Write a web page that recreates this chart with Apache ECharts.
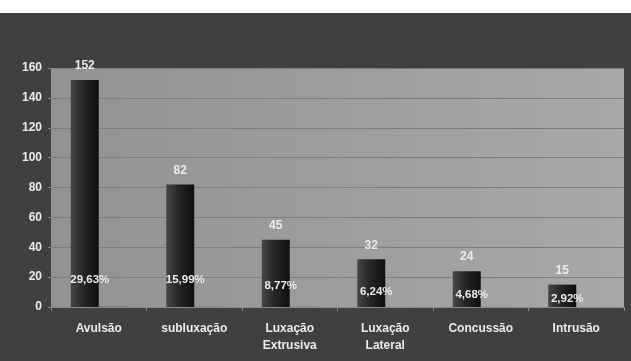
<!DOCTYPE html>
<html><head><meta charset="utf-8">
<script src="https://cdn.jsdelivr.net/npm/echarts@6/dist/echarts.min.js"></script>
<style>html,body{margin:0;padding:0;background:#fff}#c{width:631px;height:361px}</style>
</head><body><div id="c"></div>
<script>
var categories = ['Avulsão', 'subluxação', 'Luxação\nExtrusiva', 'Luxação\nLateral', 'Concussão', 'Intrusão'];
var counts = [152, 82, 45, 32, 24, 15];
var percents = ['29,63%', '15,99%', '8,77%', '6,24%', '4,68%', '2,92%'];
var shares = [29.63, 15.99, 8.77, 6.24, 4.68, 2.92];
var yTicks = [0, 20, 40, 60, 80, 100, 120, 140, 160];

var chart = echarts.init(document.getElementById('c'), null, {renderer: 'canvas'});
var barColor = new echarts.graphic.LinearGradient(0, 0, 1, 0, [
  {offset: 0, color: '#474747'}, {offset: 0.45, color: '#262626'}, {offset: 1, color: '#0e0e0e'}
]);
var font = 'Liberation Sans, Arial';
var txt = '#ebebeb';
var mainData = counts.map(function (v, i) {
  var d = Math.min(27, 0.45 * v + 1);
  return {
    value: v,
    label: {
      show: true, position: 'insideBottom', distance: Math.max(1, d - 6),
      formatter: percents[i], color: txt, fontSize: 11.5, fontWeight: 'bold',
      fontFamily: font, offset: [5, 0]
    }
  };
});
var topData = counts.map(function (v, i) {
  return {value: 0, label: {formatter: String(v)}};
});
var option = {
  backgroundColor: '#404040',
  animation: false,
  graphic: [{type: 'rect', left: 0, top: 0, shape: {width: 631, height: 13}, style: {fill: '#ffffff'}, z: 100}],
  grid: {
    left: 51, right: 7, top: 68, bottom: 54, show: true, borderWidth: 0,
    backgroundColor: new echarts.graphic.LinearGradient(0, 0, 1, 0, [
      {offset: 0, color: '#929292'}, {offset: 1, color: '#a8a8a8'}
    ])
  },
  xAxis: {
    type: 'category', data: categories,
    axisLine: {show: true, lineStyle: {color: '#8a8a8a', width: 1}},
    axisTick: {show: true, length: 4, lineStyle: {color: '#8a8a8a'}},
    axisLabel: {color: txt, fontSize: 12, fontWeight: 'bold', fontFamily: font, margin: 13, lineHeight: 17, interval: 0}
  },
  yAxis: {
    type: 'value', min: yTicks[0], max: yTicks[yTicks.length - 1], interval: 20,
    axisLine: {show: false},
    axisTick: {show: true, length: 3, lineStyle: {color: '#8a8a8a'}},
    splitLine: {show: true, lineStyle: {color: '#7e7e7e', width: 1}},
    axisLabel: {color: txt, fontSize: 12, fontWeight: 'bold', fontFamily: font, margin: 9}
  },
  series: [
    {
      type: 'bar', stack: 'a', data: mainData, barWidth: 28, barGap: '0%', barCategoryGap: '41%',
      itemStyle: {color: barColor}, z: 3
    },
    {
      type: 'bar', stack: 'a', data: topData, barWidth: 28, barGap: '0%', barCategoryGap: '41%',
      itemStyle: {color: 'rgba(0,0,0,0)'},
      label: {show: true, position: 'top', distance: 8, color: txt, fontSize: 12, fontWeight: 'bold', fontFamily: font},
      silent: true, z: 4
    },
    {
      type: 'bar', data: shares.map(function (s) { return s / 100; }), barWidth: 28, barGap: '0%', barCategoryGap: '41%',
      itemStyle: {color: '#5a5a5a'}
    }
  ]
};
chart.setOption(option);
</script></body></html>
